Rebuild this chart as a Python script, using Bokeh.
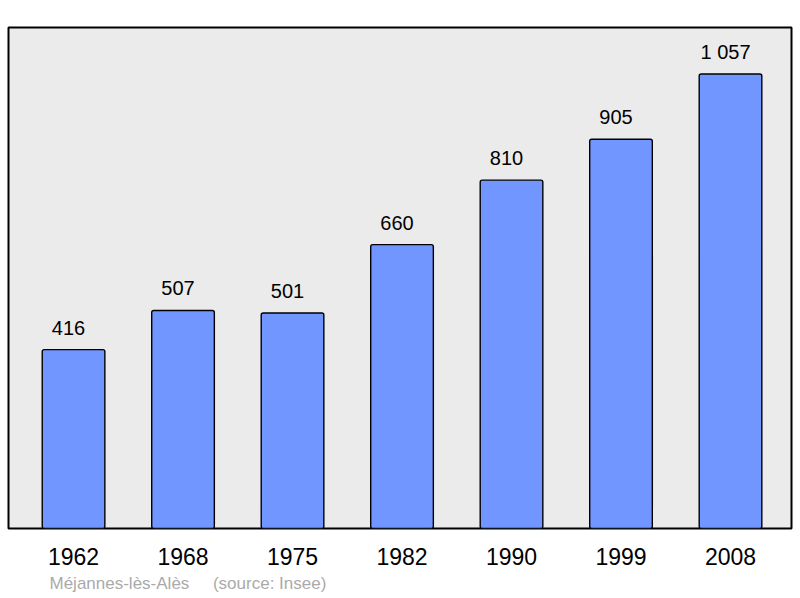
from bokeh.plotting import figure
from bokeh.models import Range1d, LinearAxis, FixedTicker, Title, ColumnDataSource
from bokeh.core.properties import value
from bokeh.embed import file_html
from bokeh.resources import INLINE

years = ["1962", "1968", "1975", "1982", "1990", "1999", "2008"]
population = [416, 507, 501, 660, 810, 905, 1057]
value_labels = ["416", "507", "501", "660", "810", "905", "1 057"]
commune = "Méjannes-lès-Alès"
source_note = "(source: Insee)"

xs = list(range(len(years)))
src = ColumnDataSource(dict(x=xs, top=population, lab=value_labels))

p = figure(width=800, height=598, output_backend="svg", toolbar_location=None,
           x_range=Range1d(-0.594, 6.557), y_range=Range1d(0, 1165),
           x_axis_location=None, y_axis_location=None,
           min_border_left=8, min_border_right=9, min_border_top=27, min_border_bottom=70)
p.background_fill_color = "#ebebeb"
p.border_fill_color = "white"
p.outline_line_color = "black"
p.outline_line_width = 2
p.xgrid.visible = False
p.ygrid.visible = False

p.vbar(x="x", top="top", bottom=0, width=0.572, source=src, border_radius=2,
       fill_color="#7196ff", line_color="black", line_width=1.4)

p.text(x="x", y="top", text="lab", source=src, text_align="center", text_baseline="middle",
       x_offset=-5, y_offset=-22, text_font=value("Liberation Sans"), text_font_size="20px",
       text_color="black")

ax = LinearAxis(ticker=FixedTicker(ticks=xs),
                major_label_overrides={i: y for i, y in enumerate(years)})
ax.axis_line_color = None
ax.major_tick_line_color = None
ax.minor_tick_line_color = None
ax.major_label_text_font = "Liberation Sans"
ax.major_label_text_font_size = "23px"
ax.major_label_text_color = "black"
ax.major_label_standoff = 13
p.add_layout(ax, "below")

note = commune + "\u00a0\u00a0\u00a0\u00a0\u00a0" + source_note
p.add_layout(Title(text=note, align="left", offset=41, standoff=8,
                   text_font="Liberation Sans", text_font_size="17px",
                   text_font_style="normal", text_color="#aaaaaa"), "below")

open("out.html", "w").write(file_html(p, INLINE))
